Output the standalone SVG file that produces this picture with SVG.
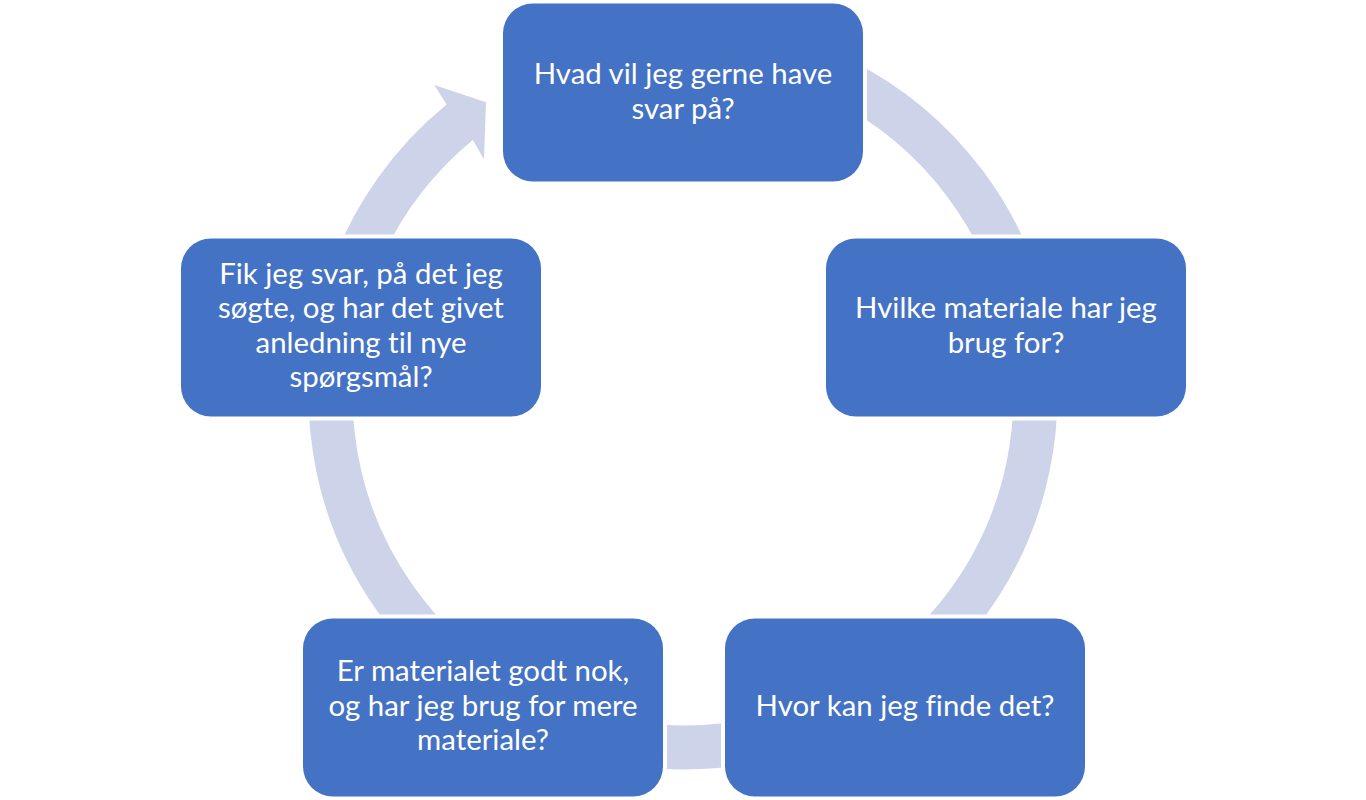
<svg xmlns="http://www.w3.org/2000/svg" width="1366" height="800" viewBox="0 0 1366 800">
<style>
.node{fill:#4472C4;stroke:#FFFFFF;stroke-width:8;paint-order:stroke}
.lbl{font-family:Lato,"Open Sans","Liberation Sans",sans-serif;font-size:29.4px;fill:#FFFFFF;text-anchor:middle;font-variant-ligatures:none}
.ring{fill:none;stroke:#CDD4EA;stroke-width:44}
.arrow{fill:#CDD4EA}
</style>
<rect width="1366" height="800" fill="#FFFFFF"/>
<g id="connectors">
<path class="ring" d="M 534.0 75.5 A 352.5 352.5 0 1 1 683 747.5 A 352.5 352.5 0 0 1 351.8 274.4"/>
<path class="arrow" d="M 331.1 266.9 A 374.5 374.5 0 0 1 446.6 104.6 L 434.3 85 L 486 102.3 L 484 159.3 L 472.8 140 A 330.5 330.5 0 0 0 372.4 282 Z"/>
</g>
<g id="node1">
<rect class="node" x="503" y="3.5" width="360" height="178" rx="30"/>
<text class="lbl" x="683" y="84.3">Hvad vil jeg gerne have</text>
<text class="lbl" x="683" y="118.7">svar på?</text>
</g>
<g id="node2">
<rect class="node" x="826" y="238.5" width="360" height="178" rx="30"/>
<text class="lbl" x="1006" y="318.3">Hvilke materiale har jeg</text>
<text class="lbl" x="1006" y="352.7">brug for?</text>
</g>
<g id="node3">
<rect class="node" x="725" y="618.5" width="360" height="178" rx="30"/>
<text class="lbl" x="905" y="716">Hvor kan jeg finde det?</text>
</g>
<g id="node4">
<rect class="node" x="303" y="618.5" width="360" height="178" rx="30"/>
<text class="lbl" x="483" y="681.1">Er materialet godt nok,</text>
<text class="lbl" x="483" y="715.5">og har jeg brug for mere</text>
<text class="lbl" x="483" y="749.9">materiale?</text>
</g>
<g id="node5">
<rect class="node" x="181" y="238.5" width="360" height="178" rx="30"/>
<text class="lbl" x="361" y="284">Fik jeg svar, på det jeg</text>
<text class="lbl" x="361" y="318.4">søgte, og har det givet</text>
<text class="lbl" x="361" y="352.8">anledning til nye</text>
<text class="lbl" x="361" y="387.2">spørgsmål?</text>
</g>
</svg>
